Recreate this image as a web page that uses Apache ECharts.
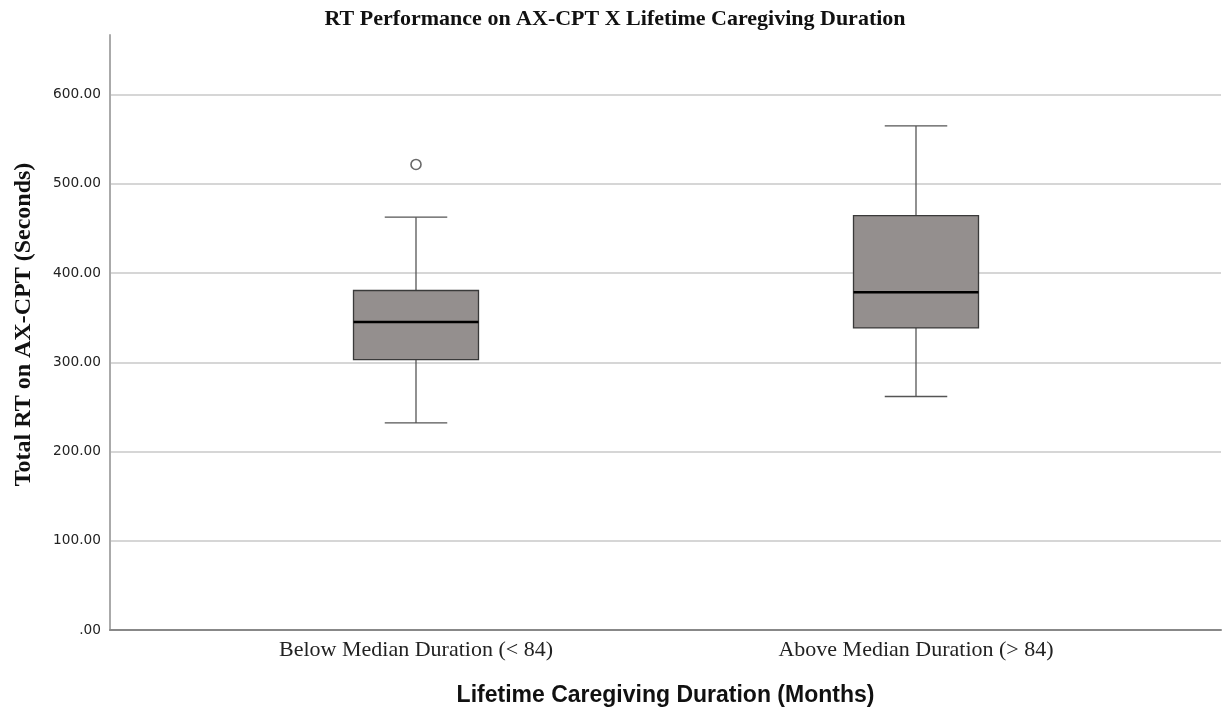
<!DOCTYPE html>
<html><head><meta charset="utf-8">
<script src="https://cdn.jsdelivr.net/npm/echarts@6/dist/echarts.min.js"></script>
<style>html,body{margin:0;padding:0;background:#fff}#c{width:1224px;height:713px}</style>
</head><body><div id="c"></div>
<script>
var categories = ['Below Median Duration (< 84)', 'Above Median Duration (> 84)'];
var lowWhisker = [232.0, 261.6];
var q1 = [303.0, 338.5];
var median = [345.2, 378.5];
var q3 = [380.4, 464.4];
var highWhisker = [462.5, 564.8];
var outliers = [[0, 521.6]];
var yTicks = [0, 100, 200, 300, 400, 500, 600];

var boxData = categories.map(function (c, i) {
  return [i, lowWhisker[i], q1[i], median[i], q3[i], highWhisker[i]];
});

function renderBox(params, api) {
  var idx = api.value(0);
  var band = api.size([1, 0])[0];
  var bw = band * 0.25, cw = bw * 0.5;
  var pLow = api.coord([idx, api.value(1)]);
  var pQ1 = api.coord([idx, api.value(2)]);
  var pMed = api.coord([idx, api.value(3)]);
  var pQ3 = api.coord([idx, api.value(4)]);
  var pHigh = api.coord([idx, api.value(5)]);
  var x = pMed[0];
  var wl = { stroke: '#555', lineWidth: 1.3 };
  return {
    type: 'group',
    children: [
      { type: 'line', shape: { x1: x, y1: pHigh[1], x2: x, y2: pQ3[1] }, style: wl },
      { type: 'line', shape: { x1: x, y1: pQ1[1], x2: x, y2: pLow[1] }, style: wl },
      { type: 'line', shape: { x1: x - cw / 2, y1: pHigh[1], x2: x + cw / 2, y2: pHigh[1] }, style: wl },
      { type: 'line', shape: { x1: x - cw / 2, y1: pLow[1], x2: x + cw / 2, y2: pLow[1] }, style: wl },
      { type: 'rect', shape: { x: x - bw / 2, y: pQ3[1], width: bw, height: pQ1[1] - pQ3[1] },
        style: { fill: '#948f8e', stroke: '#3a3a3a', lineWidth: 1.3 } },
      { type: 'line', shape: { x1: x - bw / 2, y1: pMed[1], x2: x + bw / 2, y2: pMed[1] },
        style: { stroke: '#000', lineWidth: 2.5 } }
    ]
  };
}

var chart = echarts.init(document.getElementById('c'), null, { renderer: 'canvas' });
var yMax = 666.67;
var gridCol = '#c8c8c8';
chart.setOption({
  animation: false,
  title: {
    text: 'RT Performance on AX-CPT X Lifetime Caregiving Duration',
    left: 610, top: 3, textAlign: 'center',
    textStyle: { fontFamily: 'Liberation Serif', fontWeight: 'bold', fontSize: 22, color: '#111' }
  },
  grid: [
    { left: 110, right: 3, top: 35, bottom: 83 },
    { left: 166, right: 58, top: 35, bottom: 83 }
  ],
  xAxis: [
    { type: 'value', gridIndex: 0, min: 0, max: 1,
      axisLine: { show: true, lineStyle: { color: '#888', width: 2 } },
      axisTick: { show: false }, axisLabel: { show: false }, splitLine: { show: false },
      name: 'Lifetime Caregiving Duration (Months)', nameLocation: 'middle', nameGap: 54,
      nameTextStyle: { fontFamily: 'Liberation Sans', fontWeight: 'bold', fontSize: 23, color: '#111' } },
    { type: 'category', gridIndex: 1, data: categories, boundaryGap: true,
      axisLine: { show: false }, axisTick: { show: false }, splitLine: { show: false },
      axisLabel: { margin: 9, fontFamily: 'Liberation Serif', fontSize: 22, color: '#222' } }
  ],
  yAxis: [
    { type: 'value', gridIndex: 0, min: 0, max: yMax, interval: 100,
      axisLine: { show: true, lineStyle: { color: '#aaa', width: 2 } },
      axisTick: { show: false },
      splitLine: { show: true, lineStyle: { color: [gridCol, gridCol, gridCol, gridCol, gridCol, gridCol, gridCol, 'rgba(0,0,0,0)'], width: 1.5 } },
      axisLabel: { showMaxLabel: false, margin: 9, fontFamily: 'DejaVu Sans', fontSize: 13.7, color: '#222',
        formatter: function (v) { return yTicks.indexOf(v) < 0 ? '' : (v === 0 ? '.00' : v.toFixed(2)); } },
      name: 'Total RT on AX-CPT (Seconds)', nameLocation: 'middle', nameGap: 74, nameRotate: 90,
      nameTextStyle: { fontFamily: 'Liberation Serif', fontWeight: 'bold', fontSize: 24, color: '#111', padding: [0, 0, 0, 16] } },
    { type: 'value', gridIndex: 1, min: 0, max: yMax, interval: 100, show: false,
      splitLine: { show: false } }
  ],
  series: [
    { type: 'custom', xAxisIndex: 1, yAxisIndex: 1, renderItem: renderBox,
      encode: { x: 0, y: [1, 2, 3, 4, 5] }, data: boxData },
    { type: 'scatter', xAxisIndex: 1, yAxisIndex: 1, symbol: 'circle', symbolSize: 10,
      itemStyle: { color: '#fff', borderColor: '#444', borderWidth: 1.6 }, data: outliers }
  ]
});
</script></body></html>
